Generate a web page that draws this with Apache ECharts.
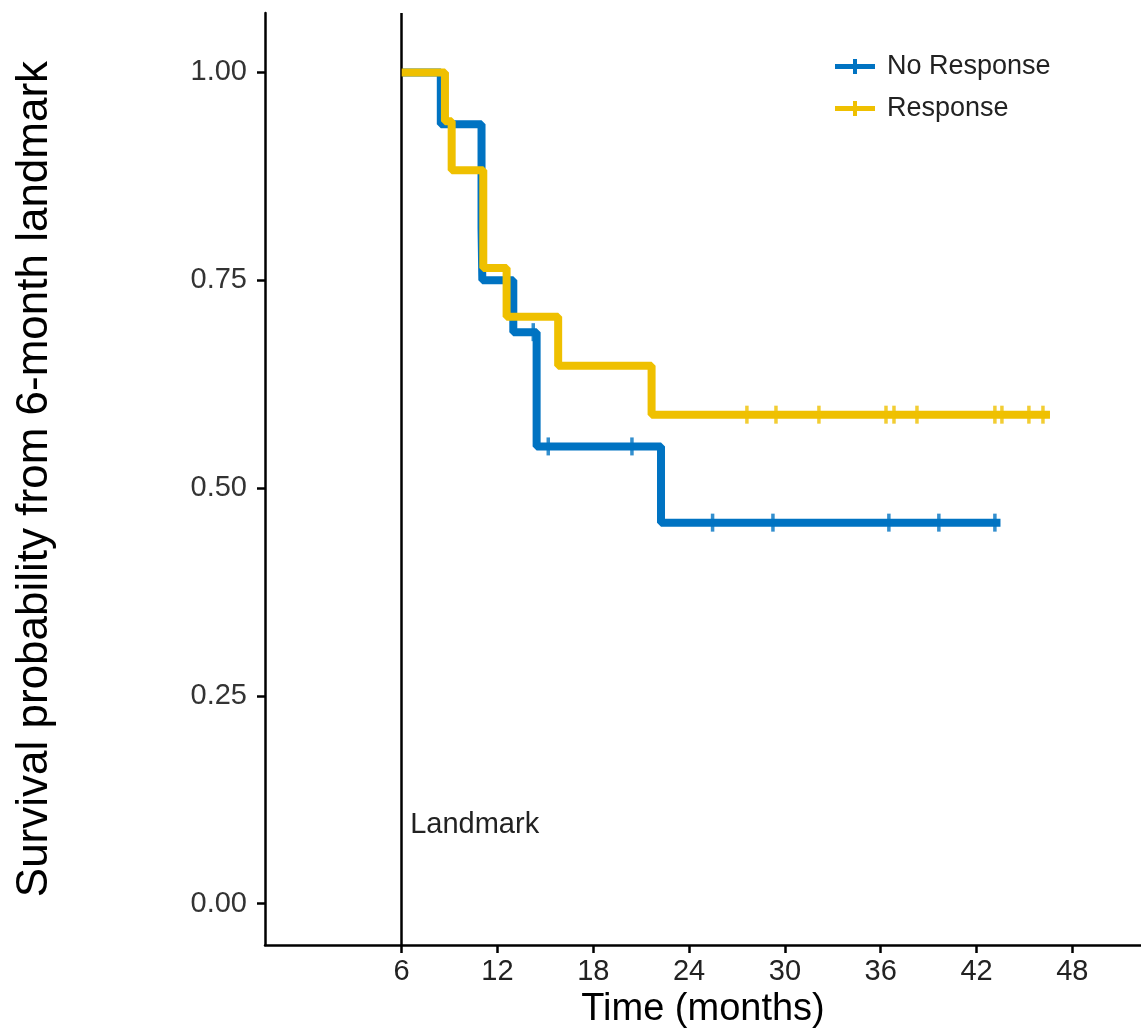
<!DOCTYPE html>
<html>
<head>
<meta charset="utf-8">
<script src="https://cdn.jsdelivr.net/npm/echarts@6/dist/echarts.min.js"></script>
<style>
html,body{margin:0;padding:0;background:#fff;}
#chart{width:1141px;height:1034px;}
</style>
</head>
<body>
<div id="chart"></div>
<script>
// Kaplan-Meier step data (time in months, survival)
const seriesNames = ['No Response', 'Response'];
const timesNo = [6, 8.45, 11.0, 11.05, 12.99, 14.45, 22.24, 43.5];
const survNo = [1, 0.9375, 0.8125, 0.75, 0.6875, 0.55, 0.4583, 0.4583];
const censorNo = [14.24, 15.18, 20.42, 25.47, 29.25, 36.51, 39.64, 43.15];
const timesYes = [6, 8.71, 9.13, 11.11, 12.57, 15.8, 21.65, 46.6];
const survYes = [1, 0.9412, 0.8824, 0.7647, 0.7059, 0.6471, 0.5882, 0.5882];
const censorYes = [27.62, 29.44, 32.13, 36.33, 36.83, 38.27, 43.15, 43.59, 45.28, 46.16];
const xTicks = [6, 12, 18, 24, 30, 36, 42, 48];
const yTicks = [0, 0.25, 0.5, 0.75, 1];
const landmarkTime = 6;
const landmarkLabel = 'Landmark';

const colors = ['#0073C2', '#EFC000'];
const font = 'Liberation Sans, Arial, sans-serif';

function stepVal(times, surv, t) {
  let v = surv[0];
  for (let i = 0; i < times.length; i++) { if (times[i] <= t) v = surv[i]; }
  return v;
}
const lineNo = timesNo.map((t, i) => [t, survNo[i]]);
const lineYes = timesYes.map((t, i) => [t, survYes[i]]);
const markNo = censorNo.map(t => [t, stepVal(timesNo, survNo, t)]);
const markYes = censorYes.map(t => [t, stepVal(timesYes, survYes, t)]);

const legendIcon = 'path://M0,5 L40,5 L40,10 L0,10 Z M18,0 L22,0 L22,15 L18,15 Z';

const chart = echarts.init(document.getElementById('chart'));
chart.setOption({
  animation: false,
  backgroundColor: '#fff',
  grid: { left: 265, right: 0, top: 13, bottom: 88, containLabel: false },
  legend: {
    orient: 'vertical',
    left: 830,
    top: 48,
    itemWidth: 40,
    itemHeight: 15,
    itemGap: 15,
    textStyle: { fontFamily: font, fontSize: 27, color: '#222', padding: [0, 0, 0, 7] },
    data: [
      { name: seriesNames[0], icon: legendIcon, itemStyle: { color: colors[0] } },
      { name: seriesNames[1], icon: legendIcon, itemStyle: { color: colors[1] } }
    ]
  },
  xAxis: {
    type: 'value',
    min: -2.56,
    max: 52.3,
    name: 'Time (months)',
    nameLocation: 'middle',
    nameGap: 42,
    nameTextStyle: { fontFamily: font, fontSize: 38, color: '#000' },
    splitLine: { show: false },
    axisLine: { show: true, onZero: false, lineStyle: { color: '#000', width: 2.5 } },
    axisTick: { show: true, length: 8, customValues: xTicks, lineStyle: { color: '#000', width: 2.5 } },
    axisLabel: { customValues: xTicks, margin: 12, fontFamily: font, fontSize: 29, color: '#222' }
  },
  yAxis: {
    type: 'value',
    min: -0.05,
    max: 1.0715,
    name: 'Survival probability from 6-month landmark',
    nameLocation: 'middle',
    nameGap: 208,
    nameTextStyle: { fontFamily: font, fontSize: 44, color: '#000' },
    splitLine: { show: false },
    axisLine: { show: true, onZero: false, lineStyle: { color: '#000', width: 2.5 } },
    axisTick: { show: true, length: 8, customValues: yTicks, lineStyle: { color: '#000', width: 2.5 } },
    axisLabel: { customValues: yTicks, margin: 18, fontFamily: font, fontSize: 29, color: '#333',
      formatter: v => v.toFixed(2) }
  },
  series: [
    {
      name: seriesNames[0], type: 'line', step: 'end', data: lineNo,
      showSymbol: false, symbol: 'none', color: colors[0],
      lineStyle: { color: colors[0], width: 8 }, z: 3,
      markLine: {
        silent: true, symbol: 'none',
        lineStyle: { color: '#000', width: 2.5, type: 'solid' },
        label: { show: false },
        data: [{ xAxis: landmarkTime }]
      },
      markPoint: {
        silent: true, symbol: 'circle', symbolSize: 1,
        itemStyle: { color: 'rgba(0,0,0,0)' },
        label: { show: true, position: 'right', distance: 8, formatter: landmarkLabel,
          fontFamily: font, fontSize: 29, color: '#222' },
        data: [{ coord: [landmarkTime, 0.095] }]
      }
    },
    {
      name: seriesNames[0], type: 'scatter', data: markNo,
      symbol: 'rect', symbolSize: [3.5, 18], itemStyle: { color: colors[0] }, z: 4
    },
    {
      name: seriesNames[1], type: 'line', step: 'end', data: lineYes,
      showSymbol: false, symbol: 'none', color: colors[1],
      lineStyle: { color: colors[1], width: 8 }, z: 5
    },
    {
      name: seriesNames[1], type: 'scatter', data: markYes,
      symbol: 'rect', symbolSize: [3.5, 18], itemStyle: { color: colors[1] }, z: 6
    }
  ]
});
</script>
</body>
</html>
